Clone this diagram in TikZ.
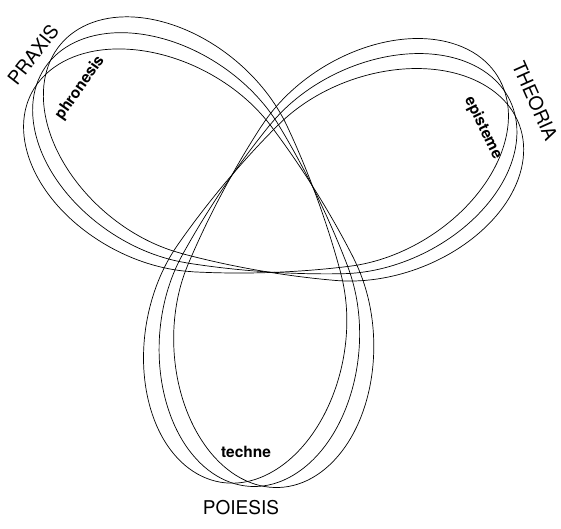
\documentclass[tikz,border=0pt]{standalone}
\usepackage{fontspec}
\setmainfont{TeX Gyre Heros}
\usepackage{tikz}

\begin{document}
\begin{tikzpicture}[
    x=1pt, y=1pt,
    strand/.style={line width=0.7pt},
    realm/.style={font=\fontsize{19}{22}\selectfont},
    virtue/.style={font=\fontsize{15.5}{18}\bfseries\selectfont}
]
  \useasboundingbox (0,0) rectangle (561,528);

  % Draw the three trefoils, each turned a little about the same point
  \foreach \d in {-6,0,6} {
    \begin{scope}[rotate around={\d:(275,323)}, shift={(268,310)}]
      % one lobe, then the run through the middle to the next one
      \foreach \a in {26,146,266} {
        \draw[strand, rotate=\a] (42.9,82.9)
          arc[start angle=124, end angle=-124, x radius=145pt, y radius=100pt]
          .. controls (-4.1,-61.1) and (-50.9,-34.1) .. (-93.4,-4.3);
      }
    \end{scope}
  }

  % Names of the three lobes
  \node[realm, rotate=52] (praxis) at (33,473) {PRAXIS};
  \node[realm, rotate=-66] (theoria) at (535,427) {THEORIA};
  \node[realm] (poiesis) at (241,20) {POIESIS};

  % Their virtues
  \node[virtue, rotate=55] (phronesis) at (80,440) {phronesis};
  \node[virtue, rotate=-64] (episteme) at (483,400) {episteme};
  \node[virtue] (techne) at (246,76) {techne};
\end{tikzpicture}
\end{document}
